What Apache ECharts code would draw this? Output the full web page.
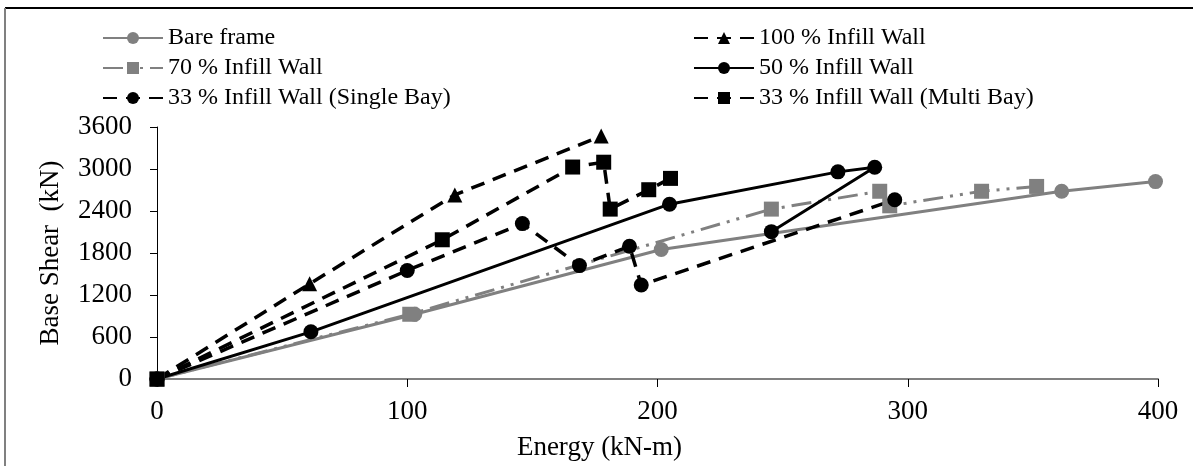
<!DOCTYPE html>
<html>
<head>
<meta charset="utf-8">
<script src="https://cdn.jsdelivr.net/npm/echarts@6/dist/echarts.min.js"></script>
<style>
html,body{margin:0;padding:0;background:#fff;}
#c{width:1193px;height:466px;}
</style>
</head>
<body>
<div id="c"></div>
<script>
// ---- data (Energy kN-m, Base Shear kN) ----
const bareFrame = [[0,0],[103,925],[201.5,1850],[361.5,2682],[399,2820]];
const infill100 = [[0,0],[61,1360],[119,2630],[177.5,3470]];
const infill70  = [[0,0],[101,925],[245.5,2427],[288.8,2682],[292.8,2474],[329.5,2682],[351.5,2751]];
const infill50  = [[0,0],[61.5,674],[204.8,2497],[272.1,2959],[286.8,3025],[245.5,2105]];
const single33  = [[0,0],[100,1551],[146,2220],[168.8,1620],[188.8,1897],[193.5,1343],[294.8,2560]];
const multi33   = [[0,0],[114,1989],[166.1,3028],[178.5,3097],[181.1,2427],[196.5,2704],[205.2,2866]];
const seriesNames = ['Bare frame','100 % Infill Wall','70 % Infill Wall','50 % Infill Wall','33 % Infill Wall (Single Bay)','33 % Infill Wall (Multi Bay)'];
const xTicks = [0,100,200,300,400];
const yTicks = [0,600,1200,1800,2400,3000,3600];

const FONT = "'Liberation Serif','Times New Roman',serif";
const GRAY = '#808080';
const DASH = [14,9];
const DASHDOT = [20,7,3,7,3,7];

function mk(name, data, color, dash, symbol, width){
  return {
    name, type:'line', data, symbol, symbolSize:15, showSymbol:true,
    lineStyle:{color, width, type:dash},
    itemStyle:{color, borderWidth:0},
    emphasis:{disabled:true}, animation:false
  };
}

const chart = echarts.init(document.getElementById('c'), null, {renderer:'canvas'});
chart.setOption({
  animation:false,
  backgroundColor:'#fff',
  textStyle:{fontFamily:FONT},
  grid:{left:157, right:35, top:127, bottom:79, containLabel:false},
  legend:[
    {data:[seriesNames[0],seriesNames[2],seriesNames[4]], orient:'vertical', left:97, top:18,
     itemWidth:60, itemHeight:15, itemGap:0,
     textStyle:{fontFamily:FONT, fontSize:24, color:'#000', lineHeight:30}},
    {data:[seriesNames[1],seriesNames[3],seriesNames[5]], orient:'vertical', left:688, top:18,
     itemWidth:60, itemHeight:15, itemGap:0,
     textStyle:{fontFamily:FONT, fontSize:24, color:'#000', lineHeight:30}}
  ],
  xAxis:{
    type:'value', min:xTicks[0], max:xTicks[xTicks.length-1], interval:100,
    name:'Energy (kN-m)', nameLocation:'middle', nameGap:55,
    nameTextStyle:{fontFamily:FONT, fontSize:27, color:'#000', padding:[0,116,0,0]},
    axisLine:{show:true, onZero:false, lineStyle:{color:GRAY, width:2}},
    axisTick:{show:true, inside:false, length:8, lineStyle:{color:'#000', width:1}},
    axisLabel:{fontFamily:FONT, fontSize:27, color:'#000', margin:19, formatter:v=>String(v)},
    splitLine:{show:false}
  },
  yAxis:{
    type:'value', min:yTicks[0], max:yTicks[yTicks.length-1], interval:600,
    name:'Base Shear  (kN)', nameLocation:'middle', nameGap:93, nameRotate:90,
    nameTextStyle:{fontFamily:FONT, fontSize:27, color:'#000'},
    axisLine:{show:true, lineStyle:{color:'#000', width:1}},
    axisTick:{show:true, inside:false, length:7, lineStyle:{color:'#000', width:1}},
    axisLabel:{fontFamily:FONT, fontSize:27, color:'#000', margin:25, formatter:v=>String(v)},
    splitLine:{show:false}
  },
  graphic:[
    {type:'line', shape:{x1:5, y1:8, x2:1193, y2:8}, style:{stroke:'#000', lineWidth:2}, silent:true},
    {type:'line', shape:{x1:5, y1:8, x2:5, y2:466}, style:{stroke:GRAY, lineWidth:2}, silent:true}
  ],
  series:[
    mk(seriesNames[0], bareFrame, GRAY, 'solid', 'circle', 3),
    mk(seriesNames[2], infill70, GRAY, DASHDOT, 'rect', 3),
    mk(seriesNames[1], infill100, '#000', DASH, 'triangle', 3.5),
    mk(seriesNames[3], infill50, '#000', 'solid', 'circle', 3),
    mk(seriesNames[4], single33, '#000', DASH, 'circle', 3.5),
    mk(seriesNames[5], multi33, '#000', DASH, 'rect', 3.5)
  ]
});
</script>
</body>
</html>
